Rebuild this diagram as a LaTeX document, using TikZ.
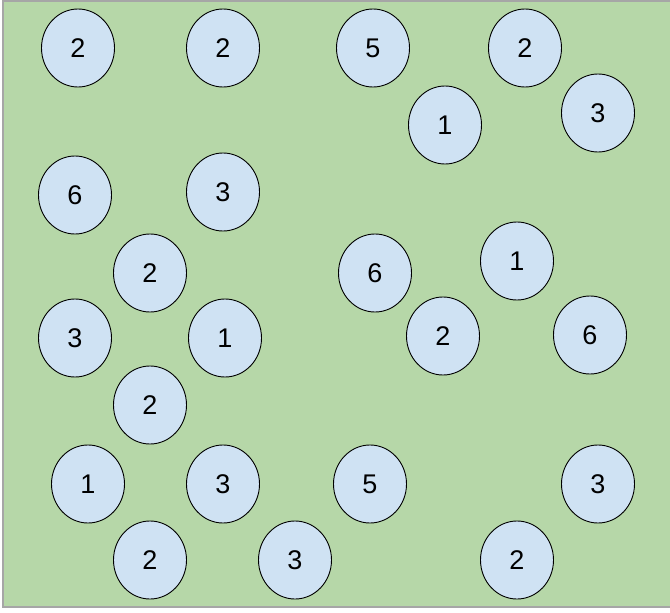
\documentclass[tikz,border=0pt]{standalone}
\usepackage{fontspec}
\setmainfont{Liberation Sans}
\usetikzlibrary{shapes.geometric}
\definecolor{boardgreen}{HTML}{B6D7A8}
\definecolor{tokenblue}{HTML}{CFE2F3}
\begin{document}
\begin{tikzpicture}[x=1pt,y=-1pt,font=\fontsize{27}{31}\selectfont]
  \tikzset{
    token/.style={ellipse,draw=black,fill=tokenblue,line width=0.9pt,
      minimum width=73pt,minimum height=78pt,inner sep=0pt},
    board/.style={draw=black!35,fill=boardgreen,line width=1.6pt}
  }
  \useasboundingbox (0,0) rectangle (670,613);
  \draw[board] (3,0.8) rectangle (674,607);

  % top rows
  \node[token] (t1) at (78,48) {2};
  \node[token] (t2) at (223,48) {2};
  \node[token] (t3) at (373,48) {5};
  \node[token] (t4) at (525,48) {2};
  \node[token] (t5) at (445,125) {1};
  \node[token] (t6) at (598,113) {3};

  % middle
  \node[token] (t7) at (75,195) {6};
  \node[token] (t8) at (223,192) {3};
  \node[token] (t9) at (150,273) {2};
  \node[token] (t10) at (375,273) {6};
  \node[token] (t11) at (517,261) {1};
  \node[token] (t12) at (75,338) {3};
  \node[token] (t13) at (225,338) {1};
  \node[token] (t14) at (443,336) {2};
  \node[token] (t15) at (590,335) {6};
  \node[token] (t16) at (150,405) {2};

  % bottom rows
  \node[token] (t17) at (88,484) {1};
  \node[token] (t18) at (223,484) {3};
  \node[token] (t19) at (370,484) {5};
  \node[token] (t20) at (598,484) {3};
  \node[token] (t21) at (150,560) {2};
  \node[token] (t22) at (295,560) {3};
  \node[token] (t23) at (517,560) {2};
\end{tikzpicture}
\end{document}
